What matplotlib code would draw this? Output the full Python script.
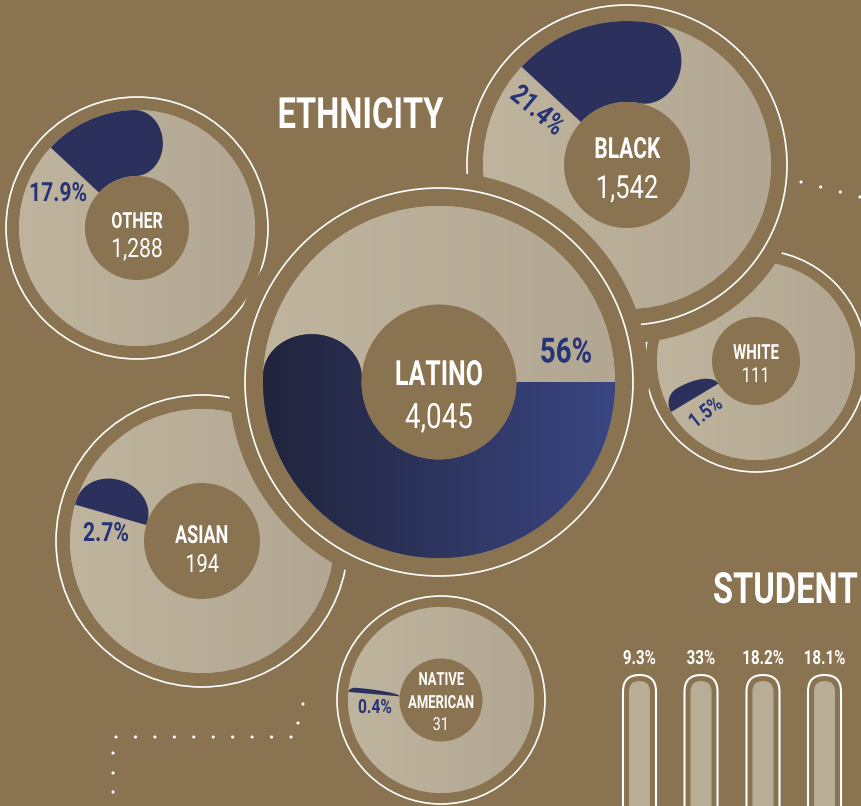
import numpy as np
import matplotlib
matplotlib.use("Agg")
import matplotlib.pyplot as plt
from matplotlib import patheffects
from matplotlib.transforms import Affine2D
from matplotlib.patches import Circle, Polygon, FancyBboxPatch
from matplotlib.colors import LinearSegmentedColormap

# ---------------- data ----------------
groups = ["LATINO", "BLACK", "OTHER", "WHITE", "ASIAN", "NATIVE\nAMERICAN"]
counts = [4045, 1542, 1288, 111, 194, 31]
shares = [56, 21.4, 17.9, 1.5, 2.7, 0.4]
share_labels = ["56%", "21.4%", "17.9%", "1.5%", "2.7%", "0.4%"]
student_shares = [9.3, 33, 18.2, 18.1]
student_labels = ["9.3%", "33%", "18.2%", "18.1%"]
titles = ["ETHNICITY", "STUDENT"]

# ---------------- style / layout ----------------
BG = "#8A7350"
BEIGE_L, BEIGE_R = "#BFB49E", "#B2A792"
NAVY = "#2B305C"
NAVY_L, NAVY_R = "#21243C", "#3A4682"
PCT_C = "#263477"
WHITE = "#FFFFFF"
FAM = ["Roboto", "DejaVu Sans"]


class Squeeze(patheffects.AbstractPathEffect):
    """Render text horizontally condensed (the reference uses a condensed face)."""

    def __init__(self, sx=0.75, anchor="center"):
        super().__init__()
        self.sx = sx
        self.anchor = anchor

    def draw_path(self, renderer, gc, tpath, affine, rgbFace=None):
        ext = tpath.get_extents()
        if self.anchor == "center":
            c = (ext.x0 + ext.x1) / 2
        elif self.anchor == "right":
            c = ext.x1
        else:
            c = 0.0
        pre = Affine2D().translate(-c, 0).scale(self.sx, 1).translate(c, 0)
        renderer.draw_path(gc, tpath, pre + affine, rgbFace)


def txt(ax, x, y, s, size, weight="bold", color="#FFFFFF", sx=0.73, ha="center",
        va="baseline", rot=0):
    return ax.text(x, y, s, ha=ha, va=va, color=color, fontsize=size, fontweight=weight,
                   family=FAM, rotation=rot, rotation_mode="anchor", zorder=200,
                   path_effects=[Squeeze(sx, ha)])


centers = [(439, 382), (627, 165), (137, 228), (756, 361), (202, 541), (441, 700)]
r_beige = [176, 144, 118, 99, 132, 93]
r_inner = [77.5, 63, 52, 44, 58, 41.5]
r_ring = [194, 160, 131, 111, 146, 104]
r_halo = [210, 178, 144, 122, 160, 115]
start_ang = [0, 137, 137, 211, 164, 175]
tip_frac = [0.5, 0.5, 0.5, 0.7, 0.5, 0.85]
layer = [5, 1, 2, 0, 3, 4]
name_size = [25, 21, 16, 15, 18, 13]
num_size = [25, 23, 19, 15, 18, 13]
name_base = [385, 158, 228, 359, 543, 685]
num_base = [428, 198, 257, 382, 572, 730]
pct_pos = [(566, 353), (537, 111), (58, 194), (706, 413), (106, 534), (375, 708)]
pct_rot = [0, -40, 0, 38, 0, 0]
pct_size = [25, 20, 19, 15, 19, 14]

W_PX, H_PX = 862, 806
fig = plt.figure(figsize=(W_PX / 100, H_PX / 100), dpi=100)
fig.patch.set_facecolor(BG)
ax = fig.add_axes([0, 0, 1, 1])
ax.set_facecolor(BG)
ax.set_axis_off()

grad = np.linspace(0, 1, 256).reshape(1, -1)
beige_cmap = LinearSegmentedColormap.from_list("beige", [BEIGE_L, BEIGE_R])
navy_cmap = LinearSegmentedColormap.from_list("navy", [NAVY_L, NAVY_R])


def band_polygon(cx, cy, ri, ro, a0_deg, V_deg, tf, depth_frac=0.85):
    W = ro - ri
    rc = ri + tf * W
    Vr = np.deg2rad(V_deg)
    d = min(depth_frac * W / 2, Vr * rc)
    a0 = np.deg2rad(a0_deg)
    b = a0 - (Vr - d / rc)
    pts = []
    for t in np.linspace(a0, b, 200):
        pts.append((cx + ro * np.cos(t), cy - ro * np.sin(t)))
    tv = np.array([np.sin(b), np.cos(b)])
    a_o, a_i = ro - rc, rc - ri
    for psi in np.linspace(0, np.pi / 2, 60):
        r = rc + a_o * np.cos(psi)
        p = np.array([cx + r * np.cos(b), cy - r * np.sin(b)]) + d * np.sin(psi) * tv
        pts.append(tuple(p))
    for psi in np.linspace(np.pi / 2, np.pi, 60):
        r = rc + a_i * np.cos(psi)
        p = np.array([cx + r * np.cos(b), cy - r * np.sin(b)]) + d * np.sin(psi) * tv
        pts.append(tuple(p))
    for t in np.linspace(b, a0, 200):
        pts.append((cx + ri * np.cos(t), cy - ri * np.sin(t)))
    return pts


for i, g in enumerate(groups):
    cx, cy = centers[i]
    z = 10 + 10 * layer[i]
    ax.add_patch(Circle((cx, cy), r_halo[i], facecolor=BG, edgecolor="none", zorder=z))
    ax.add_patch(Circle((cx, cy), r_ring[i], facecolor="none", edgecolor=WHITE,
                        lw=1.2, zorder=z + 1))
    rb = r_beige[i]
    disk = Circle((cx, cy), rb, facecolor=BEIGE_L, edgecolor="none", zorder=z + 2)
    ax.add_patch(disk)
    im = ax.imshow(grad, cmap=beige_cmap, extent=(cx - rb, cx + rb, cy + rb, cy - rb),
                   aspect="auto", zorder=z + 2.1, interpolation="bilinear")
    im.set_clip_path(disk)

    # share band (tiny shares are exaggerated so they stay visible)
    V_true = shares[i] * 3.6
    W = rb - r_inner[i]
    cap_deg = np.rad2deg(0.85 * (W / 2) / (r_inner[i] + W / 2))
    V = V_true if V_true >= cap_deg else shares[i] * 8.0
    poly = Polygon(band_polygon(cx, cy, r_inner[i], rb, start_ang[i], V, tip_frac[i]),
                   closed=True, facecolor=NAVY, edgecolor="none", zorder=z + 3)
    ax.add_patch(poly)
    if i == 0:
        im2 = ax.imshow(grad, cmap=navy_cmap, extent=(cx - rb, cx + rb, cy + rb, cy - rb),
                        aspect="auto", zorder=z + 3.1, interpolation="bilinear")
        im2.set_clip_path(poly)

    ax.add_patch(Circle((cx, cy), r_inner[i], facecolor=BG, edgecolor="none", zorder=z + 4))

    # labels
    parts = g.split("\n")
    for k, part in enumerate(parts):
        txt(ax, cx, name_base[i] + 23 * k, part, name_size[i], "bold", sx=0.72)
    txt(ax, cx, num_base[i], f"{counts[i]:,}", num_size[i], "normal", sx=0.8)
    px, py = pct_pos[i]
    txt(ax, px, py, share_labels[i], pct_size[i], "bold", color=PCT_C, sx=0.8,
        va="center", rot=pct_rot[i])

# titles
txt(ax, 360, 128, titles[0], 31, "bold", sx=0.76)
txt(ax, 858, 603, titles[1], 31, "bold", sx=0.76, ha="right")

# student capsules
bar_x = [639.5, 701, 763, 824.5]
for xb, lab in zip(bar_x, student_labels):
    ax.add_patch(FancyBboxPatch((xb - 16.5, 675), 33, 200,
                                boxstyle="round,pad=0,rounding_size=16.5",
                                facecolor="none", edgecolor=WHITE, lw=1.5, zorder=50))
    ax.add_patch(FancyBboxPatch((xb - 10.5, 681), 21, 200,
                                boxstyle="round,pad=0,rounding_size=10.5",
                                facecolor="#B8AD97", edgecolor="none", zorder=49))
    txt(ax, xb, 664, lab, 14, "bold", sx=0.78)

# decorative dotted lines
dots = []
dots += list(zip(np.linspace(801, 860, 4), np.linspace(182, 197, 4)))
dots += list(zip(np.linspace(116, 291, 10), [737] * 10))
dots += [(298, 723), (303, 704)]
dots += list(zip([113] * 3, [753, 773, 792]))
dx, dy = zip(*dots)
ax.scatter(dx, dy, s=5, color=WHITE, edgecolors="none", zorder=200)

ax.set_xlim(0, W_PX)
ax.set_ylim(H_PX, 0)
fig.savefig("out.png", dpi=100, facecolor=BG)
